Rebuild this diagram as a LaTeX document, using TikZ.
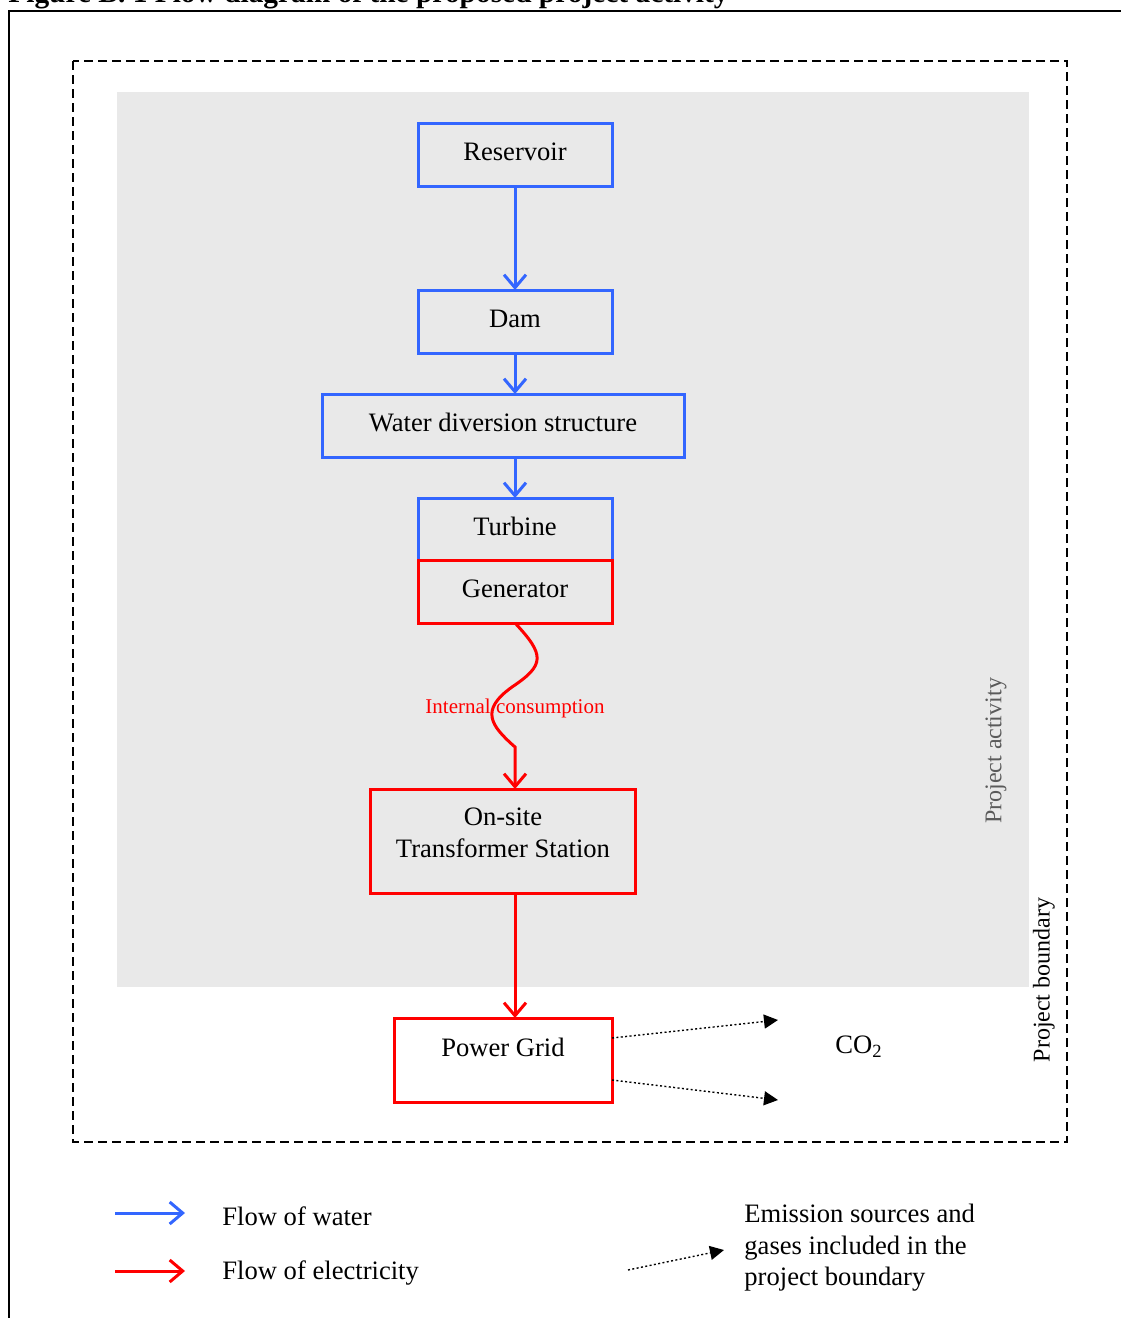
\documentclass[tikz,border=0pt]{standalone}
\usepackage{fontspec}
\setmainfont{Liberation Serif}
\usetikzlibrary{arrows.meta, positioning, calc}
\definecolor{waterblue}{RGB}{51,102,255}
\definecolor{actgray}{RGB}{233,233,233}
\definecolor{labelgray}{RGB}{90,90,90}
\tikzset{
    waterbox/.style={rectangle, minimum width=97pt, minimum height=31.5pt, text centered, draw=waterblue, line width=1.5pt, outer sep=0pt, font=\fontsize{13.3}{16}\selectfont},
    powerbox/.style={rectangle, minimum width=97pt, minimum height=31.5pt, text centered, align=center, draw=red, line width=1.5pt, outer sep=0pt, font=\fontsize{13.3}{16}\selectfont},
    waterflow/.style={line width=1.5pt, draw=waterblue, -{Straight Barb[length=6.5pt,width=11pt]}},
    powerflow/.style={line width=1.5pt, draw=red, -{Straight Barb[length=6.5pt,width=11pt]}},
    emission/.style={line width=0.7pt, dash pattern=on 1pt off 1.2pt, -{Triangle[length=7pt,width=7pt]}},
    legendtext/.style={inner sep=0pt, align=left, font=\fontsize{13.3}{15.75}\selectfont},
    sidetext/.style={inner sep=0pt, rotate=90, font=\fontsize{12}{14}\selectfont}
}

\begin{document}
\begin{tikzpicture}[x={(0.5pt,0)}, y={(0,-0.5pt)}, node distance=20.5pt]
    \useasboundingbox (0,0) rectangle (1120,1318);

    % frame and boundaries
    \node (title) [anchor=base west, inner sep=0pt, font=\bfseries\fontsize{14.7}{17}\selectfont] at (8,2) {Figure B. 1 Flow diagram of the proposed project activity};
    \draw [line width=0.75pt] (9,1330) -- (9,11) -- (1130,11);
    \draw [line width=0.75pt, dash pattern=on 4.5pt off 2.5pt] (73,61) rectangle (1067,1142);
    \fill [actgray] (117,92) rectangle (1029,987);

    % boxes
    \node (reservoir) [waterbox] at (515,154.5) {Reservoir\rule[-3pt]{0pt}{3pt}};
    \node (dam) [waterbox, below=52pt of reservoir] {Dam\rule[-3pt]{0pt}{3pt}};
    \node (diversion) [waterbox, minimum width=181pt, below=of dam, xshift=-6pt] {Water diversion structure\rule[-3pt]{0pt}{3pt}};
    \node (turbine) [waterbox, minimum height=31pt, below=of diversion, xshift=6pt] {Turbine\rule[-3pt]{0pt}{3pt}};
    \node (generator) [powerbox, below=0pt of turbine] {Generator\rule[-3pt]{0pt}{3pt}};
    \node (transformer) [powerbox, minimum width=132.5pt, minimum height=52pt, below=83pt of generator, xshift=-6pt] {On-site\\Transformer Station\rule[-8pt]{0pt}{8pt}};
    \node (grid) [powerbox, minimum width=109pt, minimum height=42pt, inner ysep=0pt, text height=18pt, text depth=22pt, below=62.5pt of transformer] {Power Grid};

    \node (intcons) [text=red, font=\fontsize{10.5}{12}\selectfont] at ($(generator.south)+(0,85)$) {Internal consumption};
    \node (co2) [font=\fontsize{13.3}{16}\selectfont] at (859,1047) {CO\textsubscript{2}};
    \node (activity) [sidetext, text=labelgray] at (996,751) {Project activity};
    \node (boundary) [sidetext] at (1044,980) {Project boundary};

    % flows
    \draw [waterflow] (reservoir) -- (dam);
    \draw [waterflow] (dam) -- (dam |- diversion.north);
    \draw [waterflow] (dam |- diversion.south) -- (turbine);
    \draw [powerflow] (generator.south) .. controls +(30,32) and +(33,-22) .. ++(-3,64)
        .. controls +(-32,23) and +(-25,-22) .. ++(3,60) -- (generator |- transformer.north);
    \draw [powerflow] (generator |- transformer.south) -- (generator |- grid.north);

    \coordinate (co2top) at (778,1020);
    \coordinate (co2bot) at (778,1100);
    \draw [emission] ([yshift=11pt]grid.east) -- (co2top);
    \draw [emission] ([yshift=-10pt]grid.east) -- (co2bot);

    % legend
    \coordinate (waterfrom) at (115,1213);
    \coordinate (waterto) at (185,1213);
    \coordinate (powerfrom) at (115,1271);
    \coordinate (powerto) at (185,1271);
    \coordinate (emitfrom) at (628,1270);
    \coordinate (emitto) at (724,1250);
    \draw [waterflow] (waterfrom) -- (waterto);
    \draw [powerflow] (powerfrom) -- (powerto);
    \draw [emission] (emitfrom) -- (emitto);
    \node (waterkey) [legendtext, anchor=west] at (222,1216) {Flow of water};
    \node (powerkey) [legendtext, anchor=west] at (222,1273) {Flow of electricity};
    \node (emitkey) [legendtext, anchor=west] at (744,1248) {Emission sources and\\gases included in the\\project boundary};
\end{tikzpicture}
\end{document}
